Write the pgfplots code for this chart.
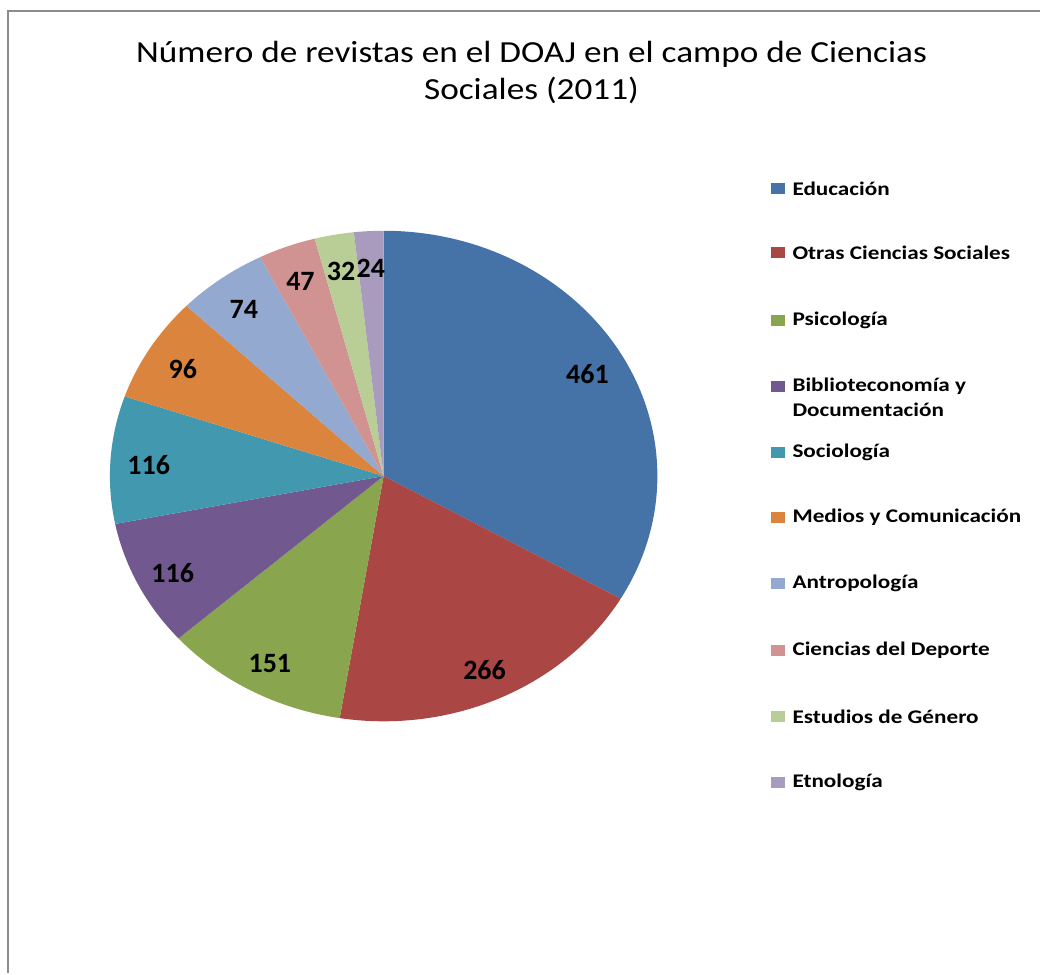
\documentclass[border=0pt]{standalone}
\usepackage{pgfplots}
\pgfplotsset{compat=1.18}
\usepackage{pgfplotstable}
\usepackage{graphicx}
\usepackage{fontspec}
\setmainfont{Carlito}

\definecolor{c0}{HTML}{4572A7}
\definecolor{c1}{HTML}{AA4643}
\definecolor{c2}{HTML}{89A54E}
\definecolor{c3}{HTML}{71588F}
\definecolor{c4}{HTML}{4198AF}
\definecolor{c5}{HTML}{DB843D}
\definecolor{c6}{HTML}{93A9CF}
\definecolor{c7}{HTML}{D19392}
\definecolor{c8}{HTML}{B9CD96}
\definecolor{c9}{HTML}{A99BBD}
\definecolor{framegray}{HTML}{8C8C8C}

\pgfplotstableread[col sep=comma]{
name,value
Educación,461
Otras Ciencias Sociales,266
Psicología,151
Biblioteconomía y Documentación,116
Sociología,116
Medios y Comunicación,96
Antropología,74
Ciencias del Deporte,47
Estudios de Género,32
Etnología,24
}\datatable

% cumulative angles (start at 12 o'clock, clockwise)
\def\total{0}
\pgfplotsforeachungrouped \i in {0,...,9}{%
  \pgfplotstablegetelem{\i}{value}\of\datatable
  \pgfmathsetmacro\total{\total+\pgfplotsretval}%
  \xdef\total{\total}%
}
\def\cum{0}
\pgfplotsforeachungrouped \i in {0,...,9}{%
  \pgfplotstablegetelem{\i}{value}\of\datatable
  \edef\val{\pgfplotsretval}%
  \expandafter\xdef\csname lab\i\endcsname{\val}%
  \pgfmathsetmacro\sa{90-360*(\cum/\total)}%
  \pgfmathsetmacro\ea{90-360*((\cum+\val)/\total)}%
  \pgfmathsetmacro\ma{(\sa+\ea)/2}%
  \expandafter\xdef\csname sa\i\endcsname{\sa}%
  \expandafter\xdef\csname ea\i\endcsname{\ea}%
  \expandafter\xdef\csname ma\i\endcsname{\ma}%
  \pgfmathsetmacro\cum{\cum+\val}%
  \xdef\cum{\cum}%
}

\def\cx{384}
\def\cy{497.5}
\def\rx{274}
\def\ry{245.5}

\newcommand\legfont{\bfseries\fontsize{14.5}{14.5}\selectfont}
\newcommand\legentry[3]{%
  \fill[#2] (axis cs:772,{974-#1-5.5}) rectangle (axis cs:786,{974-#1+5.5});
  \node[anchor=west, inner sep=0pt, font=\legfont] at (axis cs:793,{974-#1}) {\scalebox{1.2}[1]{#3}};
}

\begin{document}
\begin{tikzpicture}
\begin{axis}[
  width=780.75pt, height=730.5pt, scale only axis,
  xmin=0, xmax=1041, ymin=0, ymax=974,
  hide axis, clip=false,
]
\path (axis cs:0,0) rectangle (axis cs:1041,974);
% frame
\draw[framegray, line width=1.5pt] (axis cs:8,0) -- (axis cs:8,963) -- (axis cs:1041,963);
% title
\node[font=\fontsize{23}{28.5}\selectfont, inner sep=0pt] at (axis cs:532,900.5)
  {\scalebox{1.15}[1]{\begin{tabular}{@{}c@{}}Número de revistas en el DOAJ en el campo de Ciencias\\Sociales (2011)\end{tabular}}};
% slices
\pgfplotsinvokeforeach{0,...,9}{
  \fill[c#1] (axis cs:\cx,\cy) --
    (axis cs:{\cx+\rx*cos(\csname sa#1\endcsname)},{\cy+\ry*sin(\csname sa#1\endcsname)})
    arc[start angle=\csname sa#1\endcsname, end angle=\csname ea#1\endcsname,
        x radius=205.5pt, y radius=184.125pt] -- cycle;
}
\pgfplotsinvokeforeach{0,...,9}{
  \node[font=\bfseries\fontsize{21}{21}\selectfont, inner sep=0pt] at
    (axis cs:{\cx+0.86*\rx*cos(\csname ma#1\endcsname)},{\cy-3+0.86*\ry*sin(\csname ma#1\endcsname)})
    {\csname lab#1\endcsname};
}
% legend
\legentry{188.5}{c0}{Educación}
\legentry{253}{c1}{Otras Ciencias Sociales}
\legentry{321}{c2}{Psicología}
\legentry{386.5}{c3}{Biblioteconomía y}
\legentry{453}{c4}{Sociología}
\legentry{518}{c5}{Medios y Comunicación}
\legentry{584}{c6}{Antropología}
\legentry{651}{c7}{Ciencias del Deporte}
\legentry{717}{c8}{Estudios de Género}
\legentry{783}{c9}{Etnología}
\node[anchor=west, inner sep=0pt, font=\legfont] at (axis cs:793,564) {\scalebox{1.2}[1]{Documentación}};
\end{axis}
\end{tikzpicture}
\end{document}
